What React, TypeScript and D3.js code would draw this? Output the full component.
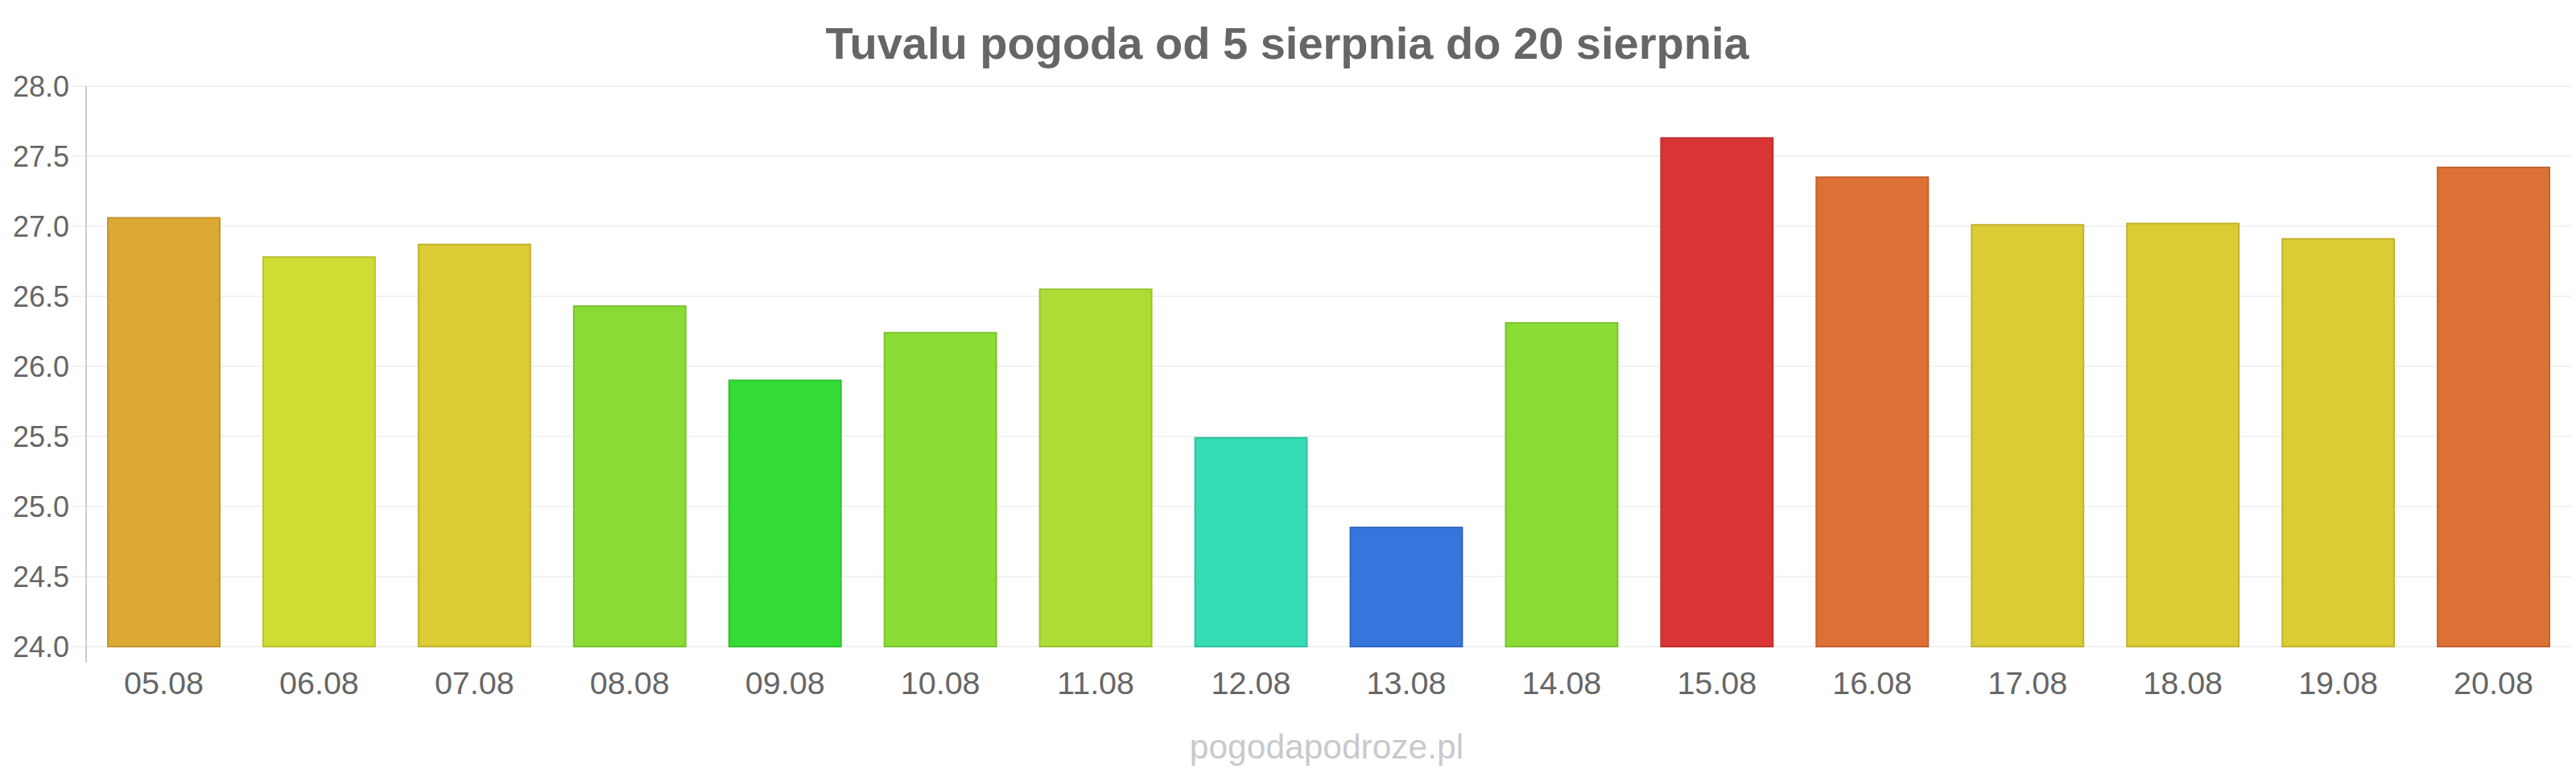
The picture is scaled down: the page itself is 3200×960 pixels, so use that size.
import * as d3 from "d3";

const dates = [
  "05.08", "06.08", "07.08", "08.08", "09.08", "10.08", "11.08", "12.08",
  "13.08", "14.08", "15.08", "16.08", "17.08", "18.08", "19.08", "20.08",
];
const temps = [
  27.06, 26.78, 26.87, 26.43, 25.9, 26.24, 26.55, 25.49,
  24.85, 26.31, 27.63, 27.35, 27.01, 27.02, 26.91, 27.42,
];
const barColors = [
  "#dca934", "#cfdd34", "#dbcb34", "#8adc35", "#35dc35", "#8cdc35", "#addd35", "#35dcb6",
  "#3575dc", "#8adc35", "#d93535", "#dc7035", "#dbcb34", "#dbcb34", "#dbcb34", "#dc7035",
];
const yTicks = [24, 24.5, 25, 25.5, 26, 26.5, 27, 27.5, 28];

const W = 3200;
const H = 960;
const FONT = "'Liberation Sans', Arial, sans-serif";

export default function App() {
  const x = d3.scaleBand<string>().domain(dates).range([107, 3194]).paddingInner(0.28).paddingOuter(0.14);
  const y = d3.scaleLinear().domain([24, 28]).range([803, 107]);

  return (
    <svg
      width={W}
      height={H}
      style={{ position: "absolute", left: 0, top: 0, background: "#fff", fontFamily: FONT }}
    >
      <text x={1599} y={73} textAnchor="middle" fontSize={56} fontWeight="bold" fill="#666">
        Tuvalu pogoda od 5 sierpnia do 20 sierpnia
      </text>

      {/* grid */}
      {yTicks.map((t) => (
        <line key={t} x1={88} x2={3194} y1={y(t)} y2={y(t)} stroke="#f2f2f2" strokeWidth={2} />
      ))}
      {yTicks.map((t) => (
        <text key={"l" + t} x={86} y={y(t)} dy="0.35em" textAnchor="end" fontSize={36} fill="#666">
          {t.toFixed(1)}
        </text>
      ))}

      {/* bars */}
      {dates.map((d, i) => (
        <rect
          key={d}
          x={x(d)!}
          y={y(temps[i])}
          width={x.bandwidth()}
          height={y(24) - y(temps[i])}
          fill={barColors[i]}
          stroke={d3.color(barColors[i])!.darker(0.35).formatHex()}
          strokeWidth={2}
        />
      ))}

      <line x1={107} x2={107} y1={107} y2={823} stroke="#ccc" strokeWidth={2} />

      {dates.map((d) => (
        <text key={"x" + d} x={x(d)! + x.bandwidth() / 2} y={862} textAnchor="middle" fontSize={39.5} fill="#666">
          {d}
        </text>
      ))}

      <text x={1648} y={942} textAnchor="middle" fontSize={42.5} fill="#c9c9cc">
        pogodapodroze.pl
      </text>
    </svg>
  );
}
